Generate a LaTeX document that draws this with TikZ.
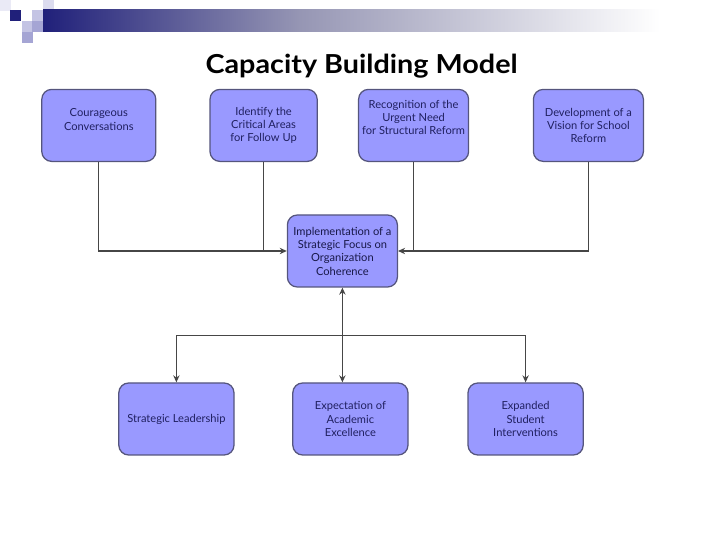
\documentclass[tikz,border=0pt]{standalone}
\usepackage{fontspec}
\setmainfont{Lato}
\newfontfamily\cbtitlefont{Lato}[FakeStretch=1.1]
\usepackage{xcolor}
\usetikzlibrary{arrows.meta, positioning}
\definecolor{cbfill}{RGB}{153,153,255}
\definecolor{cbedge}{RGB}{85,85,125}
\definecolor{cbtext}{RGB}{32,32,96}
\definecolor{cbnavy}{RGB}{32,32,122}
\definecolor{cbgrey}{RGB}{150,150,180}
\definecolor{cbline}{RGB}{70,70,70}
\definecolor{cblav}{RGB}{196,196,228}
\definecolor{cblavdark}{RGB}{165,165,212}

\begin{document}
\begin{tikzpicture}[
  cbbox/.style={draw=cbedge, line width=0.9pt, fill=cbfill, rounded corners=7pt,
    minimum width=2.75cm, minimum height=1.8cm, align=center, inner sep=1pt,
    text=cbtext, font=\fontsize{7.9}{9.5}\selectfont},
  cblink/.style={draw=cbline, line width=0.9pt},
  cbarrow/.style={cblink, -{Stealth[length=5pt,width=4.5pt]}}
]
\useasboundingbox (0,0) rectangle (18,13.475);
% header band
\foreach \x/\y/\c in {0/13.475/cblav!35, 0.25/13.225/cbnavy, 0.8/13.225/cblav,
  1.075/13.475/cblav!60, 0.55/12.95/cblav, 0.8/12.95/cblavdark, 0.55/12.675/cblavdark}
  \fill[\c] (\x,\y) rectangle +(0.27,-0.27);
\shade[left color=cbnavy, right color=cbgrey] (1.075,13.225) rectangle (7.5,12.675);
\shade[left color=cbgrey, right color=white] (7.5,13.225) rectangle (16.5,12.675);

\node[anchor=base, font=\cbtitlefont\fontsize{18.6}{22}\selectfont\bfseries] (title) at (9.04,11.63) {Capacity Building Model};

% top row
\node[cbbox, minimum width=2.85cm, text depth=0.3cm] (conv) at (2.47,10.34) {Courageous\\Conversations};
\node[cbbox, minimum width=2.68cm] (crit) at (6.59,10.34) {Identify the\\Critical Areas\\for Follow Up};
\node[cbbox, text depth=0.4cm] (urge) at (10.34,10.34) {Recognition of the\\Urgent Need\\for Structural Reform};
\node[cbbox] (vis) at (14.71,10.34) {Development of a\\Vision for School\\Reform};

% centre
\node[cbbox, text=cbtext!75!black] (focus) at (8.56,7.2) {Implementation of a\\Strategic Focus on\\Organization\\Coherence};

% bottom row
\node[cbbox, minimum width=2.88cm] (lead) at (4.41,3) {Strategic Leadership};
\node[cbbox, minimum width=2.88cm] (excel) at (8.76,3) {Expectation of\\Academic\\Excellence};
\node[cbbox, minimum width=2.88cm] (interv) at (13.14,3) {Expanded\\Student\\Interventions};

\draw[cbarrow] (conv.south) |- (focus.west);
\draw[cblink] (crit.south) -- (crit.south |- focus.west);
\draw[cblink] (urge.south) -- (urge.south |- focus.east);
\draw[cbarrow] (vis.south) |- (focus.east);

\coordinate[below=1.2cm of focus.south] (split);
\draw[cblink, {Stealth[length=5pt,width=4.5pt]}-{Stealth[length=5pt,width=4.5pt]}] (focus.south) -- (focus.south |- excel.north);
\draw[cbarrow] (split) -| (lead.north);
\draw[cbarrow] (split) -| (interv.north);
\end{tikzpicture}
\end{document}
